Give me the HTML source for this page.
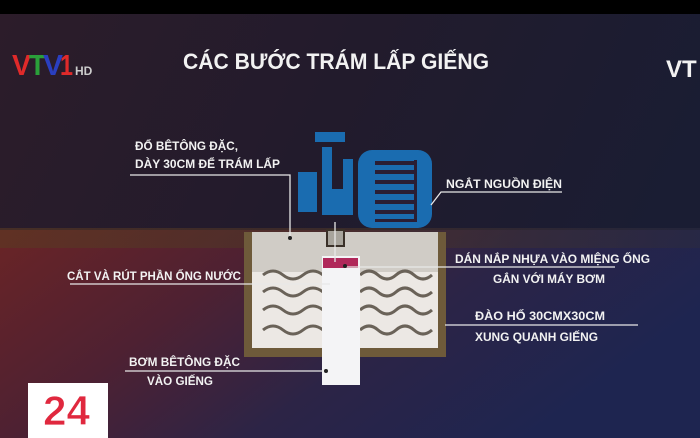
<!DOCTYPE html>
<html><head><meta charset="utf-8"><style>
html,body{margin:0;padding:0;width:700px;height:438px;overflow:hidden;background:#000}
svg{display:block}
text{font-family:"Liberation Sans",sans-serif;font-weight:bold;fill:#f2f2f2}
</style></head><body>
<svg width="700" height="438" viewBox="0 0 700 438" xmlns="http://www.w3.org/2000/svg">
<defs>
<linearGradient id="bg" x1="0" y1="0" x2="1" y2="0.3">
<stop offset="0" stop-color="#2c1c2a"/><stop offset="0.5" stop-color="#221b2c"/><stop offset="1" stop-color="#1a1d33"/>
</linearGradient>
<linearGradient id="gr" x1="0" y1="0" x2="1" y2="0.4">
<stop offset="0" stop-color="#6a2426"/><stop offset="0.35" stop-color="#4e2132"/><stop offset="0.65" stop-color="#2c2446"/><stop offset="1" stop-color="#1e2550"/>
</linearGradient>
<linearGradient id="gtop" x1="0" y1="0" x2="1" y2="0">
<stop offset="0" stop-color="#5a3a22"/><stop offset="0.5" stop-color="#4a3328"/><stop offset="1" stop-color="#2a2a40"/>
</linearGradient>
</defs>
<rect width="700" height="438" fill="url(#bg)"/>
<rect y="0" width="700" height="14" fill="#000"/>
<rect y="230" width="700" height="208" fill="url(#gr)"/>
<rect y="228" width="700" height="20" fill="url(#gtop)" opacity="0.6"/>

<!-- logos -->
<g font-size="29">
<text x="12" y="75" style="fill:#e02a2a" textLength="19" lengthAdjust="spacingAndGlyphs">V</text>
<text x="29" y="75" style="fill:#2aa03a" textLength="17" lengthAdjust="spacingAndGlyphs">T</text>
<text x="43" y="75" style="fill:#2a3fc0" textLength="20" lengthAdjust="spacingAndGlyphs">V</text>
<text x="60" y="75" style="fill:#e02a2a" textLength="13" lengthAdjust="spacingAndGlyphs">1</text>
</g>
<text x="75" y="75" font-size="12" style="fill:#ccc">HD</text>
<text x="666" y="77" font-size="24">VT</text>
<text x="183" y="69" font-size="22" textLength="306" lengthAdjust="spacingAndGlyphs">CÁC BƯỚC TRÁM LẤP GIẾNG</text>

<!-- pit -->
<rect x="244" y="232" width="202" height="125" fill="#6e5a3a"/>
<rect x="252" y="232" width="186" height="116" fill="#ece8e4"/>
<rect x="252" y="232" width="186" height="40" fill="#d0ccc6"/>
<g fill="none" stroke="#6a6258" stroke-width="3">
<path d="M263 275 q10 -8 20 0 t20 0 t20 0 M360 275 q9 -8 18 0 t18 0 t18 0 t18 0"/>
<path d="M263 292 q10 -8 20 0 t20 0 t20 0 M360 292 q9 -8 18 0 t18 0 t18 0 t18 0"/>
<path d="M263 310 q10 -8 20 0 t20 0 t20 0 M360 310 q9 -8 18 0 t18 0 t18 0 t18 0"/>
<path d="M263 330 q10 -8 20 0 t20 0 t20 0 M360 330 q9 -8 18 0 t18 0 t18 0 t18 0"/>
</g>
<rect x="327" y="230" width="17" height="16" fill="#a8a49c" stroke="#3a3028" stroke-width="2"/>
<rect x="322" y="256" width="38" height="129" fill="#f4f4f6"/>
<rect x="323" y="258" width="35" height="10" fill="#b0285a"/>

<!-- pump -->
<g fill="#1a6cb0">
<rect x="315" y="132" width="30" height="10"/>
<path d="M322 147 h10 v42 h11 v-30 h10 v56 h-31 z"/>
<rect x="298" y="172" width="19" height="40"/>
<rect x="358" y="150" width="74" height="78" rx="14"/>
</g>
<g fill="#2a1e34">
<rect x="375" y="161" width="40" height="4"/><rect x="375" y="170" width="40" height="4"/>
<rect x="375" y="180" width="40" height="4"/><rect x="375" y="190" width="40" height="4"/>
<rect x="375" y="200" width="40" height="4"/><rect x="375" y="210" width="40" height="4"/>
<rect x="375" y="219" width="40" height="3"/><rect x="414" y="160" width="3" height="62"/>
</g>

<!-- leader lines -->
<g stroke="#e8e8e8" stroke-width="1.3" fill="none">
<polyline points="130,175 290,175 290,238"/>
<polyline points="562,192 441,192 431,205"/>
<line x1="335" y1="222" x2="335" y2="262"/>
<polyline points="70,284 330,284"/>
<line x1="345" y1="267" x2="615" y2="267"/>
<line x1="445" y1="325" x2="638" y2="325"/>
<line x1="125" y1="371" x2="326" y2="371"/>
</g>
<g fill="#222"><circle cx="290" cy="238" r="2"/><circle cx="345" cy="266" r="2"/><circle cx="326" cy="371" r="2"/></g>

<!-- labels -->
<g font-size="12">
<text x="135" y="150" textLength="103" lengthAdjust="spacingAndGlyphs">ĐỔ BÊTÔNG ĐẶC,</text>
<text x="135" y="168" textLength="145" lengthAdjust="spacingAndGlyphs">DÀY 30CM ĐỂ TRÁM LẤP</text>
<text x="446" y="188" textLength="116" lengthAdjust="spacingAndGlyphs">NGẮT NGUỒN ĐIỆN</text>
<text x="67" y="280" textLength="174" lengthAdjust="spacingAndGlyphs">CẮT VÀ RÚT PHẦN ỐNG NƯỚC</text>
<text x="455" y="263" textLength="195" lengthAdjust="spacingAndGlyphs">DÁN NẮP NHỰA VÀO MIỆNG ỐNG</text>
<text x="493" y="283" textLength="112" lengthAdjust="spacingAndGlyphs">GẮN VỚI MÁY BƠM</text>
<text x="475" y="320" textLength="130" lengthAdjust="spacingAndGlyphs">ĐÀO HỐ  30CMX30CM</text>
<text x="475" y="341" textLength="123" lengthAdjust="spacingAndGlyphs">XUNG QUANH GIẾNG</text>
<text x="129" y="366" textLength="111" lengthAdjust="spacingAndGlyphs">BƠM BÊTÔNG  ĐẶC</text>
<text x="147" y="385" textLength="66" lengthAdjust="spacingAndGlyphs">VÀO GIẾNG</text>
</g>

<!-- 24 logo -->
<rect x="28" y="383" width="80" height="55" fill="#fff"/>
<text x="43" y="425" font-size="42" textLength="47" lengthAdjust="spacingAndGlyphs" style="fill:#e0283e;stroke:#fff;stroke-width:0.8">24</text>
</svg>
</body></html>
